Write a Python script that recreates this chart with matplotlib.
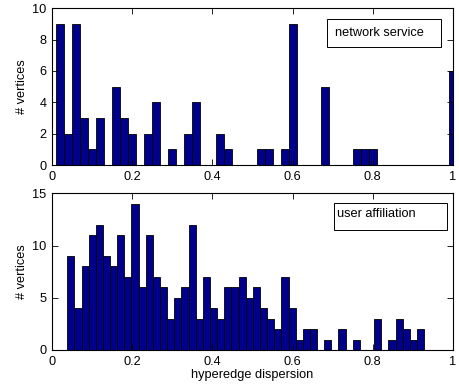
import matplotlib.pyplot as plt
import numpy as np
from matplotlib.patches import Rectangle

plt.rcParams['font.family'] = ['Liberation Sans', 'DejaVu Sans']

# network service: 50 bins of width 0.02, centred at 0.02, 0.04, ..., 1.00
net_counts = [9, 2, 9, 3, 1, 3, 0, 5, 3, 2,
              0, 2, 4, 0, 1, 0, 2, 4, 0, 0,
              2, 1, 0, 0, 0, 1, 1, 0, 1, 9,
              0, 0, 0, 5, 0, 0, 0, 1, 1, 1,
              0, 0, 0, 0, 0, 0, 0, 0, 0, 6]
net_lo, net_hi = 0.01, 1.01

# user affiliation: 50 bins from about 0.038 to 0.928
usr_counts = [9, 4, 8, 11, 12, 9, 8, 11, 7, 14,
              6, 11, 7, 6, 3, 5, 6, 12, 3, 7,
              4, 3, 6, 6, 7, 5, 6, 4, 3, 2,
              7, 4, 1, 2, 2, 0, 1, 0, 2, 0,
              1, 0, 0, 3, 0, 1, 3, 2, 1, 2]
usr_lo, usr_hi = 0.038, 0.928

bar_color = '#00008b'
fs = 9.2

W, H = 459, 385
fig = plt.figure(figsize=(W / 100, H / 100), dpi=100)


def draw_hist(ax, counts, lo, hi, ymax, yticks, label, box):
    edges = np.linspace(lo, hi, len(counts) + 1)
    centers = (edges[:-1] + edges[1:]) / 2
    ax.bar(centers, counts, width=edges[1] - edges[0], color=bar_color,
           edgecolor='black', linewidth=0.6)
    ax.set_xlim(0, 1)
    ax.set_ylim(0, ymax)
    ax.set_xticks([0, 0.2, 0.4, 0.6, 0.8, 1])
    ax.set_xticklabels(['0', '0.2', '0.4', '0.6', '0.8', '1'])
    ax.set_yticks(yticks)
    ax.tick_params(direction='in', top=True, right=True, length=4,
                   labelsize=fs, pad=4, width=0.6)
    for s in ax.spines.values():
        s.set_linewidth(0.8)
    ax.set_ylabel('# vertices', fontsize=fs, labelpad=3)
    # legend-like box with text only
    x0, y0, x1, y1, tx, ty = box
    ax.add_patch(Rectangle((x0, y0), x1 - x0, y1 - y0, transform=ax.transAxes,
                           facecolor='white', edgecolor='black', linewidth=0.7,
                           zorder=5))
    ax.text(tx, ty, label, transform=ax.transAxes, fontsize=fs,
            va='center', ha='left', zorder=6)


ax1 = fig.add_axes([52 / W, 1 - 165 / H, 401 / W, 156.7 / H])
draw_hist(ax1, net_counts, net_lo, net_hi, 10, [0, 2, 4, 6, 8, 10],
          'network service', (0.6865, 0.755, 0.9693, 0.930, 0.706, 0.842))

ax2 = fig.add_axes([52 / W, 1 - 350 / H, 401 / W, 156.7 / H])
draw_hist(ax2, usr_counts, usr_lo, usr_hi, 15, [0, 5, 10, 15],
          'user affiliation', (0.704, 0.766, 0.9855, 0.936, 0.71, 0.866))
ax2.set_xlabel('hyperedge dispersion', fontsize=fs, labelpad=1)

fig.savefig('out.png', dpi=100)
